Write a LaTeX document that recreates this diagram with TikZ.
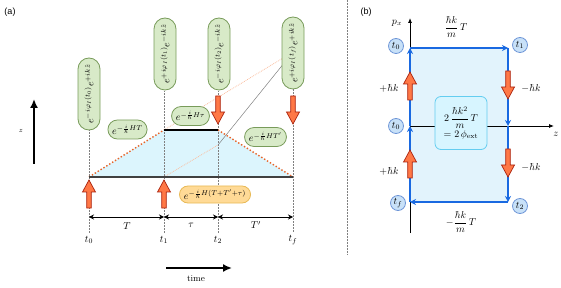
\documentclass[tikz,border=0pt]{standalone}
\usepackage{fontspec}
\newfontfamily\labfont{Liberation Sans}
\usetikzlibrary{shapes.misc,arrows.meta}
\definecolor{pillfill}{RGB}{216,234,200}
\definecolor{pilldraw}{RGB}{120,155,90}
\definecolor{opillfill}{RGB}{255,218,150}
\definecolor{opilldraw}{RGB}{232,185,85}
\definecolor{kickfill}{RGB}{255,120,70}
\definecolor{kickdraw}{RGB}{170,35,15}
\definecolor{trapfill}{RGB}{220,245,253}
\definecolor{dotorange}{RGB}{232,100,40}
\definecolor{faintorange}{RGB}{250,190,160}
\definecolor{bblue}{RGB}{25,105,225}
\definecolor{rectfill}{RGB}{226,243,252}
\definecolor{circfill}{RGB}{200,225,248}
\definecolor{circdraw}{RGB}{110,150,215}
\definecolor{boxfill}{RGB}{215,245,255}
\definecolor{boxdraw}{RGB}{100,205,240}
\begin{document}
\begin{tikzpicture}[x=1pt,y=-1pt,
  vpill/.style={rounded rectangle, draw=pilldraw, fill=pillfill, line width=0.8pt,
    rotate=90, minimum height=22pt, minimum width=76pt, inner xsep=2pt, inner ysep=2pt},
  hpill/.style={rounded rectangle, draw=pilldraw, fill=pillfill, line width=0.8pt,
    minimum height=19pt, inner xsep=3pt, inner ysep=1pt},
  opill/.style={rounded rectangle, draw=opilldraw, fill=opillfill, line width=0.8pt,
    minimum height=17pt, inner xsep=3pt, inner ysep=1pt},
  vdot/.style={densely dotted, gray, line width=0.5pt},
  dim/.style={line width=0.8pt, {Stealth[length=5pt,width=5pt]}-{Stealth[length=5pt,width=5pt]}},
  kick/.pic={\path[draw=kickdraw, fill=kickfill, line width=0.7pt, line join=miter]
    (-2.3,0) -- (-2.3,-16) -- (-6.5,-16) -- (0,-28) -- (6.5,-16) -- (2.3,-16) -- (2.3,0) -- cycle;},
  tcirc/.style={circle, draw=circdraw, fill=circfill, line width=0.8pt, minimum size=15pt, inner sep=0pt},
  barrow/.style={draw=bblue, line width=1.3pt, -{Stealth[length=6pt,width=6pt]}},
  axis/.style={line width=0.8pt, -{Latex[length=5pt,width=4pt]}},
  bigarrow/.style={line width=1.7pt, -{Latex[length=9pt,width=8pt]}}
]
\useasboundingbox (0,0) rectangle (561,288);

% ---------- panel (a) ----------
\node[font=\labfont\small] (la) at (10,12) {(a)};

\coordinate (B0) at (89,177);
\coordinate (B1) at (164,177);
\coordinate (U1) at (164,130);
\coordinate (U2) at (218,130);
\coordinate (L2) at (218,145);
\coordinate (Bf) at (293,177);
\coordinate (Xf) at (293,52);

\fill[trapfill] (B0) -- (U1) -- (U2) -- (Bf) -- cycle;

% labels t
\node (l0) at (89,240) {$t_0$};
\node (l1) at (164,240) {$t_1$};
\node (l2) at (218,240) {$t_2$};
\node (lf) at (293,240) {$t_f$};

% faint lines
\draw[faintorange, densely dotted, line width=0.8pt] (U1) -- (Xf);
\draw[faintorange, densely dotted, line width=0.8pt] (B1) -- (L2);
\draw[gray, line width=0.5pt] (L2) -- (Xf);

% pills
\node[vpill] (p0) at (89,94) {$e^{-i\varphi_I(t_0)}e^{+ik\hat z}$};
\node[vpill] (p1) at (165,54) {$e^{+i\varphi_I(t_1)}e^{-ik\hat z}$};
\node[vpill] (p2) at (219,54) {$e^{-i\varphi_I(t_2)}e^{-ik\hat z}$};
\node[vpill] (pf) at (293,53) {$e^{+i\varphi_I(t_f)}e^{+ik\hat z}$};

% vertical dotted lines
\draw[vdot] (l0.north) -- (l0 |- p0.west);
\draw[vdot] (l1.north) -- (l1 |- p1.west);
\draw[vdot] (l2.north) -- (l2 |- p2.west);
\draw[vdot] (lf.north) -- (lf |- pf.west);

% edges
\draw[dotorange, dotted, line width=1.4pt] (B0) -- (U1);
\draw[dotorange, dotted, line width=1.4pt] (U2) -- (Bf);
\draw[black!75, line width=1.3pt] (B0) -- (Bf);
\draw[black, line width=1.3pt] (U1) -- (U2);

% horizontal pills
\node[hpill] (hT) at (127.5,129.5) {$e^{-\frac{i}{\hbar}HT}$};
\node[hpill] (htau) at (190.5,116) {$e^{-\frac{i}{\hbar}H\tau}$};
\node[hpill] (hTp) at (265.5,137) {$e^{-\frac{i}{\hbar}HT'}$};
\node[opill] (hall) at (215,194.5) {$e^{-\frac{i}{\hbar}H(T+T'+\tau)}$};

% kicks
\pic at (89,208) {kick};
\pic at (164,208) {kick};
\pic[rotate=180] at (218,96) {kick};
\pic[rotate=180] at (293,96) {kick};

% dimension arrows
\coordinate (d0) at (89,217);
\coordinate (d1) at (164,217);
\coordinate (d2) at (218,217);
\coordinate (df) at (293,217);
\draw[dim] (d0) -- (d1);
\draw[dim] (d1) -- (d2);
\draw[dim] (d2) -- (df);
\node (nT) at (127,226) {$T$};
\node (ntau) at (191,225) {$\tau$};
\node (nTp) at (256,225) {$T'$};

% axes a
\coordinate (za) at (34,164);
\coordinate (zb) at (34,99);
\draw[bigarrow] (za) -- (zb);
\node[font=\scriptsize] (zl) at (21,131) {$z$};
\coordinate (ta) at (166,268);
\coordinate (tb) at (232,268);
\draw[bigarrow] (ta) -- (tb);
\node[font=\small] (tl) at (196,279) {time};

% separator
\coordinate (s1) at (347,0);
\coordinate (s2) at (347,255);
\draw[vdot] (s1) -- (s2);

% ---------- panel (b) ----------
\node[font=\labfont\small] (lb) at (366,12) {(b)};

\coordinate (A) at (410,126);
\coordinate (B) at (410,48);
\coordinate (C) at (508,48);
\coordinate (D) at (508,126);
\coordinate (E) at (508,202);
\coordinate (F) at (410,202);
\coordinate (pxa) at (410,233);
\coordinate (pxb) at (410,18);
\coordinate (zz) at (554,126);

\fill[rectfill] (B) rectangle (E);
\draw[axis] (pxa) -- (pxb);
\draw[axis] (A) -- (zz);
\node (pxl) at (397,23) {$p_x$};
\node (zbl) at (556,134) {$z$};

\draw[barrow] (B) -- (C);
\draw[barrow] (C) -- (D);
\draw[barrow] (D) -- (E);
\draw[barrow] (E) -- (F);
\draw[barrow] (F) -- (A);
\draw[barrow] (A) -- (B);

\node[draw=boxdraw, fill=boxfill, line width=0.8pt, rounded corners=6pt,
  minimum width=52pt, minimum height=53pt, align=center, inner sep=1pt] (box) at (461,123)
  {$2\,\displaystyle\frac{\hbar k^2}{m}\,T$\\[1pt] $=2\,\phi_{\mathrm{ext}}$};

\pic at (410,100) {kick};
\pic at (410,178) {kick};
\pic[rotate=180] at (508,71) {kick};
\pic[rotate=180] at (508,149) {kick};

\node (kp1) at (389,88) {$+\hbar k$};
\node (km1) at (531,88) {$-\hbar k$};
\node (kp2) at (389,171) {$+\hbar k$};
\node (km2) at (531,167) {$-\hbar k$};

\node (top) at (456,27) {$\displaystyle\frac{\hbar k}{m}\,T$};
\node (bot) at (461,222) {$\displaystyle-\frac{\hbar k}{m}\,T$};

\node[tcirc] (c0) at (396,46) {$t_0$};
\node[tcirc] (c1) at (520,45) {$t_1$};
\node[tcirc] (c0m) at (396,126) {$t_0$};
\node[tcirc] (cf) at (398,203) {$t_f$};
\node[tcirc] (c2) at (520,206) {$t_2$};
\end{tikzpicture}
\end{document}
